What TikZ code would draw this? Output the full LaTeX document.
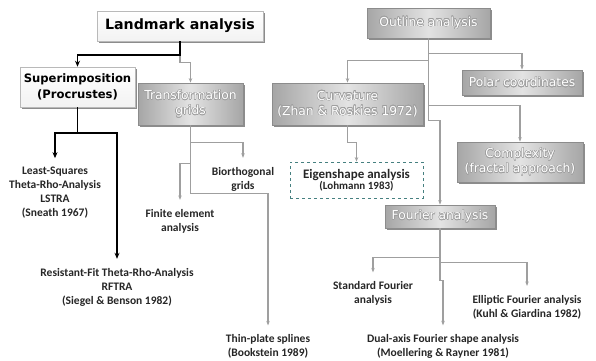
\documentclass[tikz,border=0pt]{standalone}
\usepackage{fontspec}
\setmainfont{Carlito}
\newfontfamily\hand{DejaVu Sans}
\usepackage{contour}
\contourlength{0.45pt}
\usetikzlibrary{arrows.meta,shadows,calc}

% embossed caption for the grey boxes
\newcommand{\emb}[1]{\contour{gray!75}{#1}}

\tikzset{
  whitebox/.style={draw=gray!55, line width=0.6pt, top color=white, bottom color=gray!10,
    drop shadow={shadow xshift=2.2pt, shadow yshift=-2.2pt, opacity=0.45, fill=black},
    inner sep=0pt, align=center, text=black},
  greybox/.style={draw=gray!90, line width=0.8pt, left color=gray!70, right color=gray!70,
    middle color=gray!22,
    drop shadow={shadow xshift=2.2pt, shadow yshift=-2.2pt, opacity=0.45, fill=black},
    inner sep=0pt, align=center, text=white,
    font=\hand\fontsize{12.3}{15}\selectfont},
  dashbox/.style={draw=teal!45!gray, dashed, line width=0.8pt, fill=white,
    inner sep=0pt, align=center, text=black!85},
  lbl/.style={align=center, text=black!85, inner xsep=2pt, inner ysep=9pt,
    font=\bfseries\fontsize{11.5}{14}\selectfont},
  blk/.style={draw=black, line width=1.8pt, -{Stealth[length=6pt,width=5pt]}},
  gln/.style={draw=gray!75!black!60, line width=1.1pt, -{Stealth[length=4.5pt,width=3.5pt]}},
}

\begin{document}
\begin{tikzpicture}[x=1pt,y=-1pt]
\useasboundingbox (0,0) rectangle (596,360);

% ---- landmark branch ----
\node[whitebox, minimum width=166pt, minimum height=30pt,
  font=\hand\bfseries\fontsize{14.2}{18}\selectfont] (land) at (180,26) {Landmark analysis};
\node[whitebox, minimum width=115pt, minimum height=40pt,
  font=\hand\bfseries\fontsize{11.6}{16}\selectfont] (sup) at (77.5,87) {Superimposition\\(Procrustes)};
\node[greybox, minimum width=105pt, minimum height=42pt] (tg) at (190.5,104)
  {\emb{Transformation}\\\emb{grids}};

\node[lbl] (ls) at (55,193) {Least-Squares\\Theta-Rho-Analysis\\LSTRA\\(Sneath 1967)};
\node[lbl] (rf) at (117,287) {Resistant-Fit Theta-Rho-Analysis\\RFTRA\\(Siegel \& Benson 1982)};
\node[lbl] (bio) at (243,179) {Biorthogonal\\grids};
\node[lbl] (fin) at (180,221) {Finite element\\analysis};
\node[lbl] (tps) at (268,346.5) {Thin-plate splines\\(Bookstein 1989)};

% ---- outline branch ----
\node[greybox, minimum width=123pt, minimum height=30pt] (outl) at (428.5,23) {\emb{Outline analysis}};
\node[greybox, minimum width=120pt, minimum height=25pt] (polar) at (522,82.5) {\emb{Polar coordinates}};
\node[greybox, minimum width=151pt, minimum height=42pt] (curv) at (347.5,104)
  {\emb{Curvature}\\\emb{(Zhan \& Roskies 1972)}};
\node[greybox, minimum width=126pt, minimum height=40pt] (cplx) at (520,162)
  {\emb{Complexity}\\\emb{(fractal approach)}};
\node[dashbox, minimum width=133pt, minimum height=36pt] (eig) at (356.5,180)
  {{\bfseries\fontsize{13}{15}\selectfont Eigenshape analysis}\\[-1pt]{\bfseries\fontsize{11}{13}\selectfont (Lohmann 1983)}};
\node[greybox, minimum width=110pt, minimum height=23pt] (four) at (440,216.5) {\emb{Fourier analysis}};

\node[lbl] (sf) at (373,293.5) {Standard Fourier\\analysis};
\node[lbl] (ell) at (527,307) {Elliptic Fourier analysis\\(Kuhl \& Giardina 1982)};
\node[lbl] (dual) at (443,346.5) {Dual-axis Fourier shape analysis\\(Moellering \& Rayner 1981)};

% ---- connectors ----
\draw[gln] ($(land.south)+(0,14)$) -- ++(0,7) -| (tg.north);
\draw[blk] (land.south) -- ++(0,14) -| (sup.north);

\draw[blk] (sup.south) -- ++(0,26) coordinate (sj) -| (ls.north);
\draw[blk] (sj) -| (rf.north);

\draw[gln] (tg.south) -- ++(0,68) -| (tps.north);
\draw[gln] (tg.south) -- ++(0,38) -| (fin.north);
\draw[gln] (tg.south) -- ++(0,17) -| (bio.north);

\draw[gln] (outl.south) -- ++(0,15) -| (polar.north);
\draw[gln] (outl.south) -- ++(0,22) -| (curv.north);
\draw[gln] (outl.south) -- ++(0,67) -| (cplx.north);
\draw[gln] (outl.south) -- ++(0,82) -| (four.north);

\draw[gln] (curv.south) -- ++(0,17) -| (eig.north);

\draw[gln] (four.south) -- ++(0,29) -| (sf.north);
\draw[gln] (four.south) -- ++(0,34) -| (ell.north);
\draw[gln] (four.south) -- ++(0,52) -| (dual.north);
\end{tikzpicture}
\end{document}
